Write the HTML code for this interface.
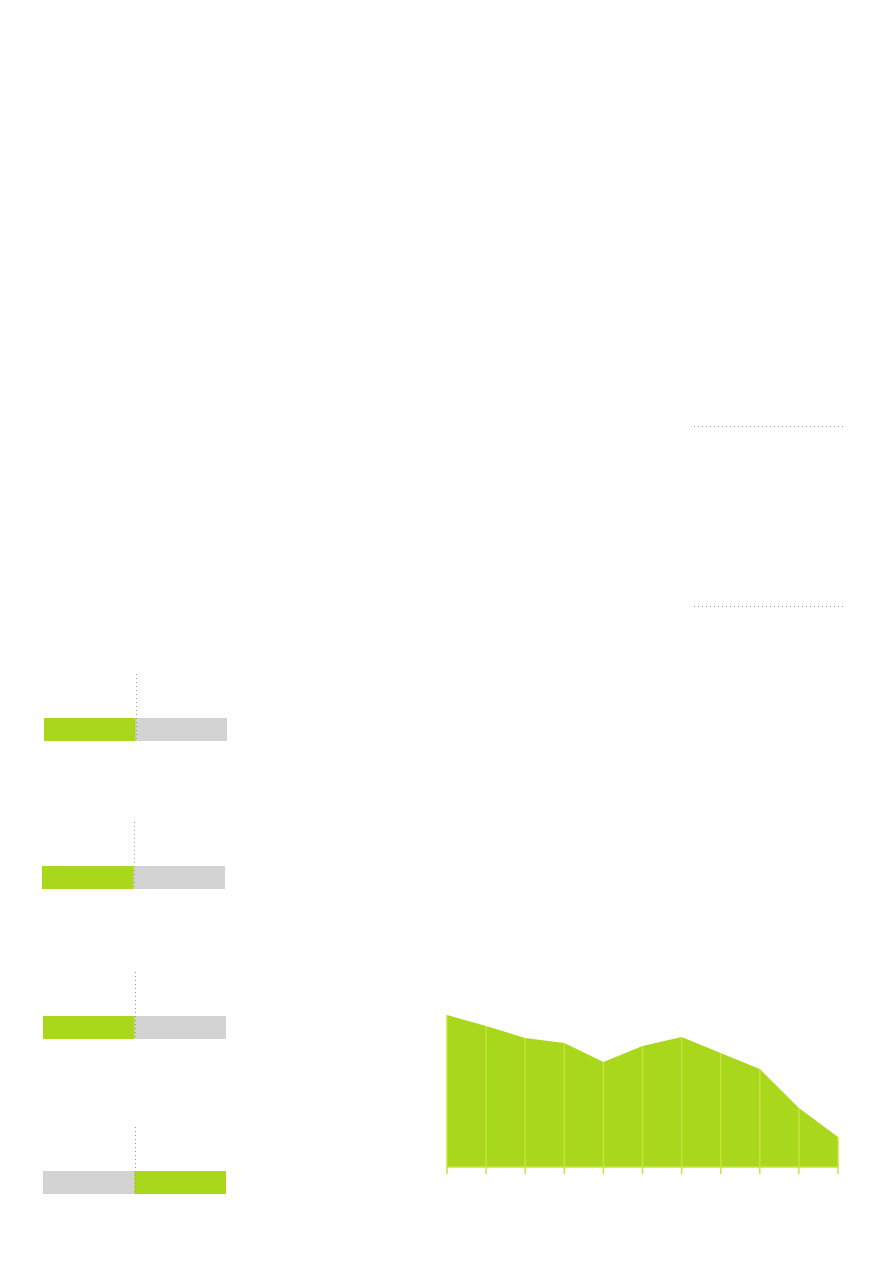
<!DOCTYPE html>
<html><head><meta charset="utf-8"><style>
body{margin:0;background:#fff;width:893px;height:1263px;overflow:hidden;font-family:"Liberation Sans",sans-serif}
svg{position:absolute;left:0;top:0}
</style></head><body>
<svg width="893" height="1263">
<line x1="694" y1="426.5" x2="845" y2="426.5" stroke="#999" stroke-dasharray="1,3"/>
<line x1="694" y1="606.5" x2="845" y2="606.5" stroke="#999" stroke-dasharray="1,3"/>
<g id="bars"></g>
<g id="area"></g>
</svg>
<script>
const barShares=[50,50,50,50];
const barGreenLeft=[true,true,true,false];
const barTops=[718,866,1016,1171];
const barLefts=[44,42,43,43];
const areaValues=[152,141,129,124,105,121,130,114,98,59,30];
const NS='http://www.w3.org/2000/svg';
function mk(t,a,p){const e=document.createElementNS(NS,t);for(const k in a)e.setAttribute(k,a[k]);p.appendChild(e);return e;}
const bg=document.getElementById('bars');
barShares.forEach((s,i)=>{
  const x0=barLefts[i],w=183,y=barTops[i],h=23,split=x0+w*s/100;
  const g=barGreenLeft[i];
  const a=mk('rect',{x:x0,y:y,width:split-x0,height:h,fill:g?'#a8d71c':'#d3d3d3'},bg);
  
  
  const b=mk('rect',{x:split,y:y,width:x0+w-split,height:h,fill:g?'#d3d3d3':'#a8d71c'},bg);
  
  
  const l=mk('line',{x1:Math.round(split)+0.5,y1:y-44,x2:Math.round(split)+0.5,y2:y+h,stroke:'#999','stroke-dasharray':'1,3'},bg);
  
  
});
const ag=document.getElementById('area');
const x0=447,x1=838,base=1167,n=areaValues.length;
const xs=i=>x0+(x1-x0)*i/(n-1), ys=v=>base-v;
let d='M'+x0+','+base;
areaValues.forEach((v,i)=>d+=' L'+xs(i)+','+ys(v));
d+=' L'+x1+','+base+' Z';
const p=mk('path',{d:d,fill:'#a8d71c'},ag);


areaValues.forEach((v,i)=>{
  const l=mk('line',{x1:xs(i),y1:ys(v),x2:xs(i),y2:base+7,stroke:'#c8e33a','stroke-width':1.5},ag);
  
  
});
const ax=mk('line',{x1:x0,y1:base,x2:x1,y2:base,stroke:'#c8e33a','stroke-width':1.5},ag);


</script>
</body></html>
